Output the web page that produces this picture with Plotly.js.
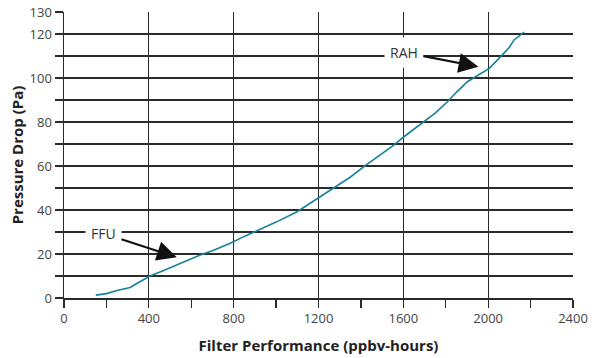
<!DOCTYPE html>
<html>
<head>
<meta charset="utf-8">
<script src="https://cdn.plot.ly/plotly-3.0.1.min.js"></script>
<style>html,body{margin:0;padding:0;background:#fff;}#chart{width:603px;height:358px;}</style>
</head>
<body>
<div id="chart"></div>
<script>
// Data
const filterPerformance = [150, 200, 250, 312, 343, 375, 406, 470, 532, 590, 642, 700, 784, 850, 910, 1000, 1099, 1150, 1205, 1272, 1351, 1414, 1500, 1555, 1603, 1650, 1697, 1750, 1808, 1850, 1902, 1965, 2005, 2059, 2100, 2122, 2150, 2169];
const pressureDrop     = [1.3, 2.0, 3.4, 4.8, 6.6, 8.4, 10.0, 12.5, 15.0, 17.5, 19.5, 21.5, 24.9, 28.0, 30.5, 34.5, 39.2, 42.4, 46.0, 50.0, 55.0, 59.7, 65.5, 69.5, 73.3, 76.8, 79.9, 84.0, 89.2, 93.5, 98.3, 102.1, 104.4, 109.7, 114.0, 117.3, 119.5, 120.8];

const xTickVals = [0, 400, 800, 1200, 1600, 2000, 2400];
const xTickText = ['0', '400', '800', '1200', '1600', '2000', '2400'];
const xMinorTickVals = [200, 600, 1000, 1400, 1800, 2200];
const yTickVals = [0, 10, 20, 30, 40, 50, 60, 70, 80, 90, 100, 110, 120, 130];
const yTickText = ['0', '', '20', '', '40', '', '60', '', '80', '', '100', '', '120', '130'];

const labels = ['FFU', 'RAH'];
const labelPos = [[186, 29.4], [1603, 111.7]];
const arrowTip = [[532, 18.5], [1954, 105.1]];

const gridColor = '#2a2a2a';
const fontFam = '"Open Sans", "Noto Sans", sans-serif';

const trace = {
  x: filterPerformance,
  y: pressureDrop,
  type: 'scatter',
  mode: 'lines',
  line: {color: '#16809a', width: 1.6},
  hoverinfo: 'skip'
};

const annotations = labels.map((t, i) => ({
  text: t,
  x: arrowTip[i][0], y: arrowTip[i][1], xref: 'x', yref: 'y',
  ax: labelPos[i][0], ay: labelPos[i][1], axref: 'x', ayref: 'y',
  showarrow: true, arrowhead: 2, arrowsize: 1.8, arrowwidth: 2.2, arrowcolor: '#111',
  font: {family: fontFam, size: 14, color: '#333'},
  bgcolor: '#ffffff', borderpad: 5, standoff: 0
}));

const layout = {
  width: 603, height: 358,
  margin: {l: 64, r: 30, t: 12, b: 60},
  paper_bgcolor: '#fff', plot_bgcolor: '#fff',
  showlegend: false,
  xaxis: {
    range: [0, 2400], tickmode: 'array', tickvals: xTickVals, ticktext: xTickText,
    ticks: 'outside', ticklen: 8, tickwidth: 1.2, tickcolor: gridColor,
    minor: {tickmode: 'array', tickvals: xMinorTickVals, ticks: 'outside', ticklen: 8, tickwidth: 1.2, tickcolor: gridColor, showgrid: false},
    showgrid: true, gridcolor: gridColor, gridwidth: 1.3,
    showline: true, linecolor: gridColor, linewidth: 1.5,
    zeroline: false,
    tickfont: {family: fontFam, size: 13, color: '#444'},
    title: {text: 'Filter Performance (ppbv-hours)', font: {family: fontFam, size: 15, color: '#222', weight: 'bold'}, standoff: 14}
  },
  yaxis: {
    range: [0, 130], tickmode: 'array', tickvals: yTickVals, ticktext: yTickText,
    ticks: 'outside', ticklen: 8, tickwidth: 1.2, tickcolor: gridColor,
    showgrid: true, gridcolor: gridColor, gridwidth: 1.3,
    showline: true, linecolor: gridColor, linewidth: 1.5,
    zeroline: false,
    tickfont: {family: fontFam, size: 13, color: '#444'},
    title: {text: 'Pressure Drop (Pa)', font: {family: fontFam, size: 15, color: '#222', weight: 'bold'}, standoff: 2}
  },
  annotations: annotations
};

Plotly.newPlot('chart', [trace], layout, {displayModeBar: false, staticPlot: true});
</script>
</body>
</html>
